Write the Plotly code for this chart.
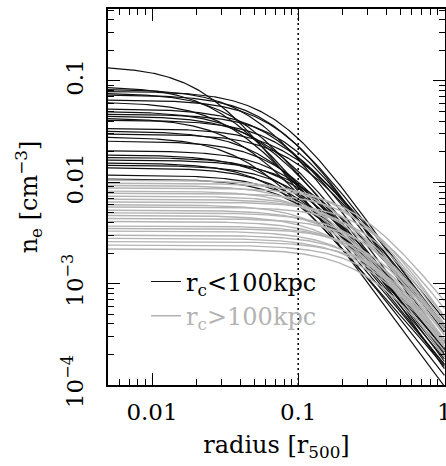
import numpy as np
import plotly.graph_objects as go

# Beta-model parameters (central density [cm^-3], core radius [r500], beta)
# clusters with r_c < 100 kpc (black)
n0_black = [0.140, 0.088, 0.083, 0.079, 0.076, 0.073, 0.065, 0.062, 0.053, 0.050,
            0.047, 0.045, 0.043, 0.041, 0.034, 0.032, 0.030, 0.028, 0.0255, 0.0205,
            0.0186, 0.0176, 0.0166, 0.0155, 0.0147, 0.0139, 0.0118, 0.0108]
rc_black = [0.024, 0.030, 0.050, 0.075, 0.040, 0.065, 0.080, 0.035, 0.070, 0.050,
            0.090, 0.060, 0.040, 0.085, 0.090, 0.060, 0.095, 0.045, 0.080, 0.095,
            0.070, 0.090, 0.100, 0.075, 0.100, 0.085, 0.100, 0.095]
beta_black = [0.65, 0.60, 0.66, 0.70, 0.62, 0.64, 0.75, 0.58, 0.66, 0.60,
              0.72, 0.63, 0.58, 0.65, 0.60, 0.60, 0.62, 0.56, 0.66, 0.70,
              0.56, 0.58, 0.55, 0.62, 0.60, 0.54, 0.57, 0.52]

# clusters with r_c > 100 kpc (grey)
n0_grey = [0.0105, 0.0098, 0.0093, 0.0088, 0.0082, 0.0078, 0.0073, 0.0068, 0.0064, 0.0060,
           0.0057, 0.0053, 0.0050, 0.0047, 0.0044, 0.0041, 0.0037, 0.0035, 0.0033, 0.0030,
           0.0028, 0.0026, 0.0024, 0.0022]
rc_grey = [0.18, 0.22, 0.14, 0.26, 0.16, 0.30, 0.20, 0.25, 0.32, 0.17,
           0.35, 0.22, 0.28, 0.19, 0.34, 0.24, 0.30, 0.38, 0.26, 0.33,
           0.29, 0.40, 0.34, 0.30]
beta_grey = [0.70, 0.66, 0.62, 0.62, 0.68, 0.75, 0.62, 0.70, 0.68, 0.60,
             0.80, 0.64, 0.66, 0.58, 0.72, 0.64, 0.66, 0.78, 0.60, 0.70,
             0.60, 0.75, 0.66, 0.62]

x_ticks = [0.01, 0.1, 1]
x_ticktext = ["0.01", "0.1", "1"]
y_ticks = [1e-4, 1e-3, 1e-2, 1e-1]
y_ticktext = ["10<sup>\u22124</sup>", "10<sup>\u22123</sup>", "0.01", "0.1"]

r = np.logspace(np.log10(0.005), 0, 300)


def beta_model(rr, n0, rc, beta):
    return n0 * (1.0 + (rr / rc) ** 2) ** (-1.5 * beta)


fig = go.Figure()
for i, (n0, rc, b) in enumerate(zip(n0_black, rc_black, beta_black)):
    fig.add_trace(go.Scatter(
        x=r, y=beta_model(r, n0, rc, b), mode="lines",
        line=dict(color="#111111", width=1.2),
        legendgroup="black", showlegend=(i == 0),
        name="r<sub>c</sub>&lt;100kpc", hoverinfo="skip"))
for i, (n0, rc, b) in enumerate(zip(n0_grey, rc_grey, beta_grey)):
    fig.add_trace(go.Scatter(
        x=r, y=beta_model(r, n0, rc, b), mode="lines",
        line=dict(color="#b3b3b3", width=1.4),
        legendgroup="grey", showlegend=(i == 0),
        name='<span style="color:#b3b3b3">r<sub>c</sub>&gt;100kpc</span>', hoverinfo="skip"))

fig.add_vline(x=0.1, line=dict(color="black", width=1.5, dash="2px,3px"))

axis_common = dict(
    type="log", showgrid=False, zeroline=False, showline=True,
    linecolor="black", linewidth=1.5, mirror="allticks", automargin=False,
    ticks="inside", ticklen=12, tickwidth=1.2, tickcolor="black",
    ticklabeloverflow="allow",
    minor=dict(ticks="inside", ticklen=6, tickwidth=1, tickcolor="black",
               dtick="D1", showgrid=False),
    tickfont=dict(family="DejaVu Serif", size=23, color="black"),
)

fig.update_xaxes(**axis_common, range=[np.log10(0.005), 0.004],
                 tickvals=x_ticks, ticktext=x_ticktext, ticklabelstandoff=6,
                 title=dict(text="radius [r<sub>500</sub>]", standoff=12,
                            font=dict(family="DejaVu Serif", size=24)))
fig.update_yaxes(**axis_common, range=[-4, -0.29],
                 tickvals=y_ticks, ticktext=y_ticktext, tickangle=-90,
                 ticklabelstandoff=14,
                 title=dict(text="n<sub>e</sub> [cm<sup>\u22123</sup>]", standoff=14,
                            font=dict(family="DejaVu Serif", size=24)))

fig.update_layout(
    width=446, height=466,
    margin=dict(l=108, r=1, t=9, b=81),
    plot_bgcolor="white", paper_bgcolor="white",
    font=dict(family="DejaVu Serif", size=21, color="black"),
    legend=dict(x=0.113, y=0.334, xanchor="left", yanchor="top",
                bgcolor="rgba(0,0,0,0)", itemwidth=30,
                font=dict(family="DejaVu Serif", size=24, color="black"),
                tracegroupgap=0),
)

fig.write_html("out.html", config={"displayModeBar": False},
               post_script="document.body.style.margin='0';"
                           "document.body.style.overflow='hidden';")
